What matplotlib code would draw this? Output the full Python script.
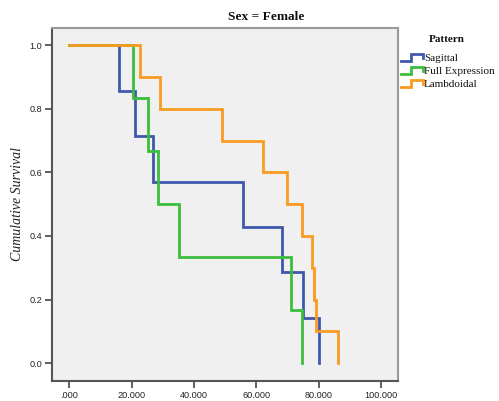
import matplotlib
matplotlib.use("Agg")
import matplotlib.pyplot as plt
from matplotlib.lines import Line2D
from matplotlib.legend_handler import HandlerBase

# Kaplan-Meier survival estimates by suture pattern (females)
sagittal_t = [0.0, 16.0, 21.1, 26.8, 55.9, 68.2, 74.9, 80.0]
sagittal_s = [1.0, 0.857, 0.714, 0.571, 0.429, 0.286, 0.143, 0.0]

full_t = [0.0, 20.5, 25.2, 28.4, 35.2, 71.1, 74.8]
full_s = [1.0, 0.833, 0.667, 0.5, 0.333, 0.167, 0.0]

lambdoidal_t = [0.0, 22.7, 29.1, 48.9, 62.3, 70.0, 74.6, 77.8, 78.7, 79.1, 86.4]
lambdoidal_s = [1.0, 0.9, 0.8, 0.7, 0.6, 0.5, 0.4, 0.3, 0.2, 0.1, 0.0]

series_names = ["Sagittal", "Full Expression", "Lambdoidal"]
x_ticks = [0, 20, 40, 60, 80, 100]
x_tick_labels = [".000", "20.000", "40.000", "60.000", "80.000", "100.000"]
y_ticks = [0.0, 0.2, 0.4, 0.6, 0.8, 1.0]
y_tick_labels = ["0.0", "0.2", "0.4", "0.6", "0.8", "1.0"]

colors = ["#3f58ad", "#3cbd3c", "#f99b20"]

W, H = 499, 401
fig = plt.figure(figsize=(W / 100, H / 100), dpi=100)
ax = fig.add_axes([52 / W, 1 - 381 / H, (398 - 52) / W, (381 - 28) / H])
ax.set_facecolor("#f0f0f0")

for t, s, c, name in zip([sagittal_t, full_t, lambdoidal_t],
                         [sagittal_s, full_s, lambdoidal_s],
                         colors, series_names):
    ax.step(t, s, where="post", color=c, lw=2.0, label=name,
            solid_joinstyle="miter")

ax.set_xlim(-5.55, 105.5)
ax.set_ylim(-0.056, 1.054)
ax.set_xticks(x_ticks)
ax.set_xticklabels(x_tick_labels)
ax.set_yticks(y_ticks)
ax.set_yticklabels(y_tick_labels)

for lab in ax.get_xticklabels() + ax.get_yticklabels():
    lab.set_fontfamily("Liberation Sans")
    lab.set_fontsize(6.6)
    lab.set_color("#222222")
ax.tick_params(direction="out", length=5, width=1.2, color="#444444", pad=2)

for side in ("left", "bottom"):
    ax.spines[side].set_color("#555555")
    ax.spines[side].set_linewidth(1.5)
for side in ("top", "right"):
    ax.spines[side].set_color("#9a9a9a")
    ax.spines[side].set_linewidth(1.5)

fig.text(18 / W, 1 - 204 / H, "Cumulative Survival", family="Liberation Serif",
         style="italic", size=10, rotation=90, ha="center", va="center",
         color="#222222")

fig.text(265.7 / W, 1 - 16.7 / H, "Sex = Female", family="Liberation Serif",
         weight="bold", size=9.6, ha="center", va="center", color="#111111")

fig.text(446.7 / W, 1 - 39 / H, "Pattern", family="Liberation Serif",
         weight="bold", size=8, ha="center", va="center", color="#111111")


class StepHandler(HandlerBase):
    def create_artists(self, legend, orig_handle, xdescent, ydescent,
                       width, height, fontsize, trans):
        w, h = width, height
        xs = [-xdescent, -xdescent + 0.45 * w, -xdescent + 0.45 * w,
              -xdescent + w, -xdescent + w]
        ys = [-ydescent + 0.0 * h, -ydescent + 0.0 * h, -ydescent + 1.0 * h,
              -ydescent + 1.0 * h, -ydescent + 0.4 * h]
        line = Line2D(xs, ys, color=orig_handle.get_color(), lw=2.0,
                      solid_joinstyle="miter")
        line.set_transform(trans)
        return [line]


handles = ax.get_lines()
leg = fig.legend(handles, series_names, loc="upper left",
                 bbox_to_anchor=(401 / W, 1 - 54 / H),
                 frameon=False,
                 prop=dict(family="Liberation Serif", size=8),
                 handler_map={Line2D: StepHandler()},
                 handlelength=1.95, handleheight=0.55, handletextpad=0.1,
                 labelspacing=0.34, borderaxespad=0, borderpad=0)
for txt in leg.get_texts():
    txt.set_color("#111111")

fig.savefig("out.png", dpi=100, facecolor="white")
